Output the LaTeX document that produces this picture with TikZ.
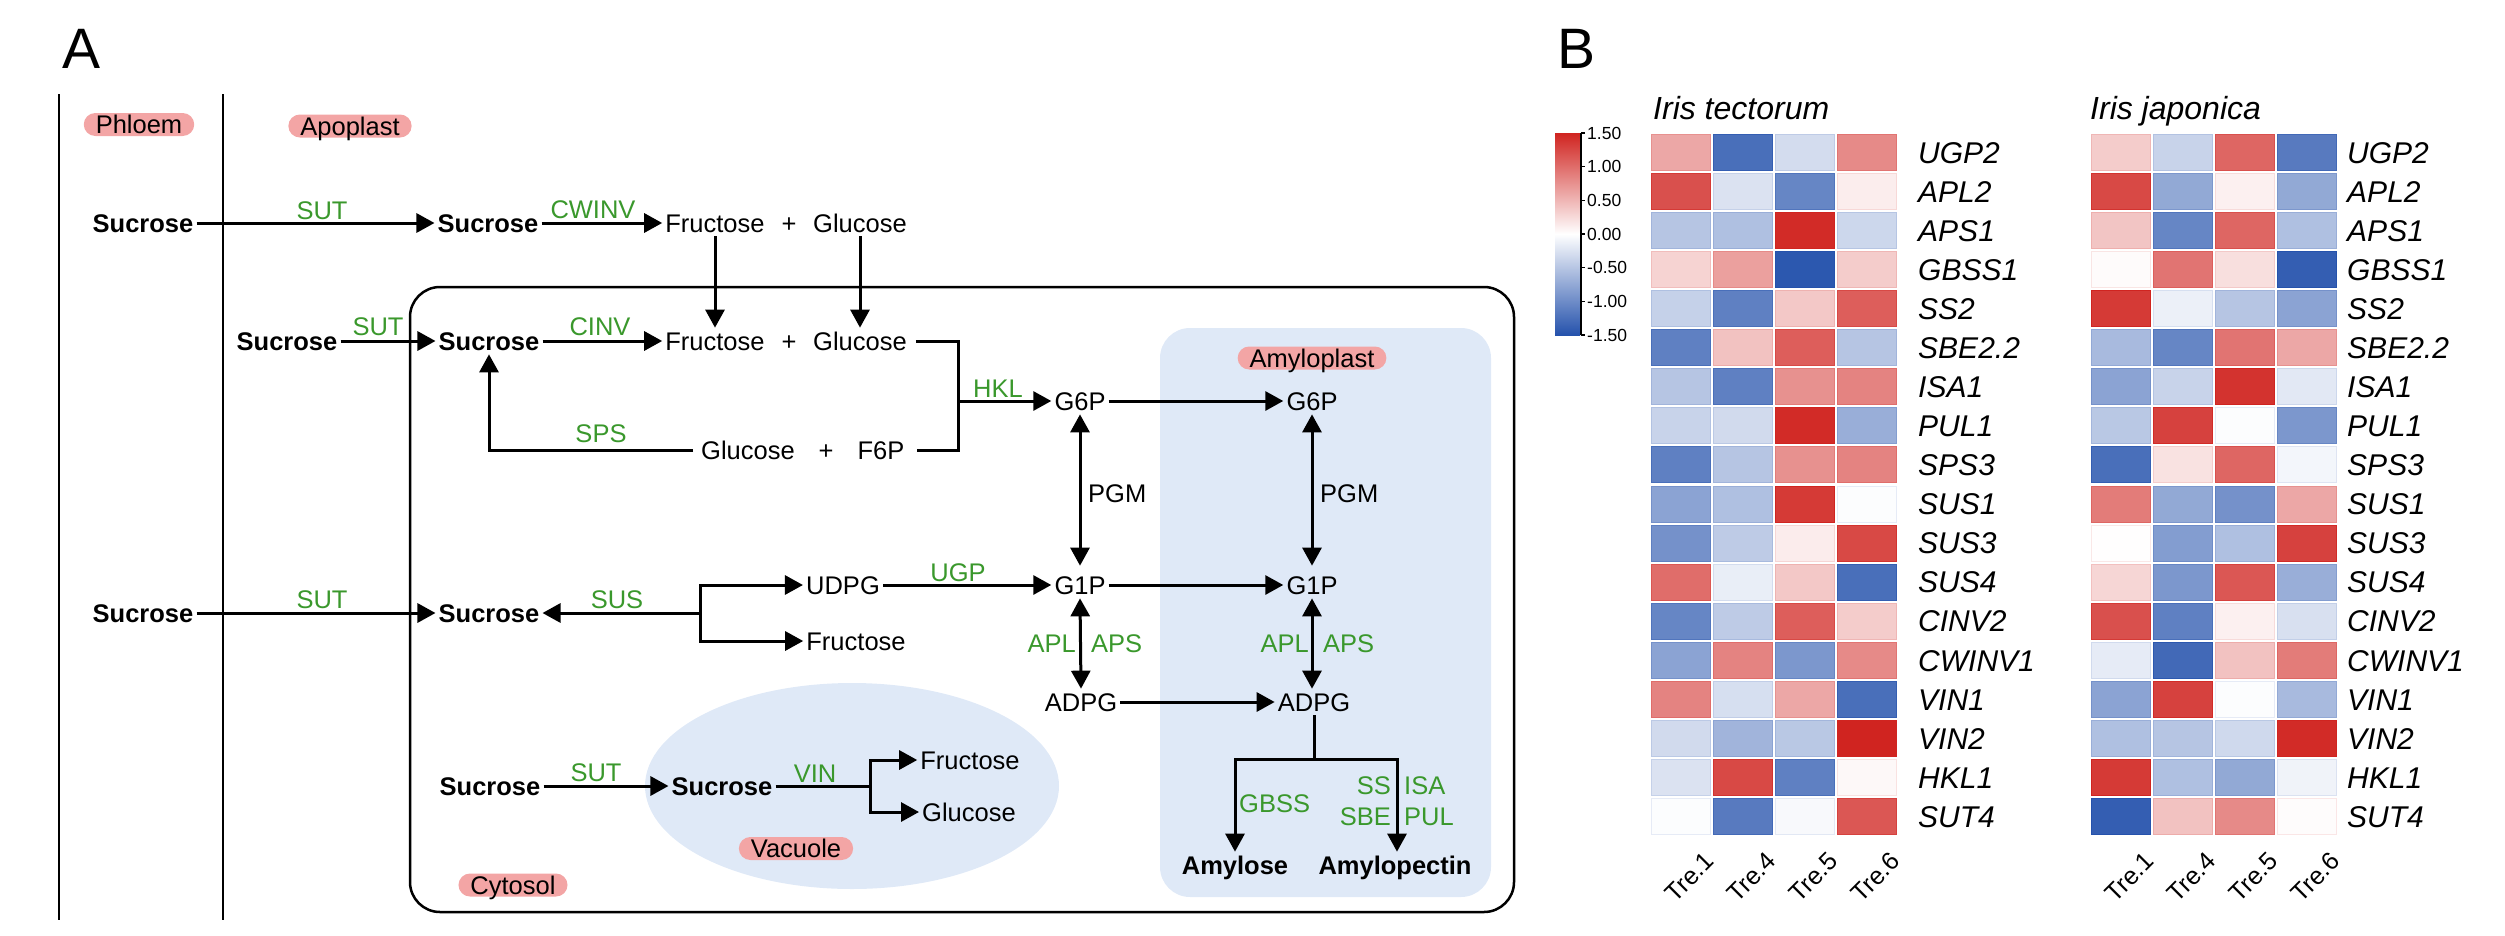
\documentclass[tikz,border=0pt]{standalone}
\usepackage{fontspec}
\setmainfont{Liberation Sans}
\usetikzlibrary{arrows.meta}
\definecolor{enz}{RGB}{58,152,44}
\definecolor{pillc}{RGB}{243,165,165}
\definecolor{amy}{RGB}{223,233,247}
\definecolor{hmr}{RGB}{208,36,32}
\definecolor{hmb}{RGB}{37,82,172}
\newcommand\fsmain{\fontsize{25.5bp}{30bp}\selectfont}
\newcommand\hmcell[3]{%
  \pgfmathsetmacro\hmP{min(100,abs(#3)/1.5*100)}%
  \pgfmathsetmacro\hmQ{min(100,abs(#3)/1.5*100+10)}%
  \ifdim #3pt<0pt \def\hmC{hmb}\else\def\hmC{hmr}\fi
  \filldraw[fill=\hmC!\hmP!white, draw=\hmC!\hmQ!white, line width=1bp] (#1+1.5,#2+1.5) rectangle (#1+60.5,#2+37.5);}
\begin{document}
\begin{tikzpicture}[x=1bp,y=-1bp,
  every node/.style={inner sep=0pt},
  txt/.style={font=\fsmain, text height=18.3bp, text depth=0bp, inner xsep=3bp, inner ysep=4bp},
  bld/.style={txt, font=\fsmain\bfseries},
  enzl/.style={font=\fsmain, text=enz, text height=18.3bp, text depth=0bp},
  blk/.style={font=\fsmain, text height=18.3bp, text depth=0bp},
  pill/.style={font=\fsmain, fill=pillc, rounded corners=11.5bp, text height=18.3bp, text depth=0bp, inner xsep=12bp, inner ysep=2.35bp},
  arr/.style={line width=3bp, -{Triangle[length=18bp,width=19bp]}},
  dbl/.style={line width=3bp, {Triangle[length=18bp,width=19bp]}-{Triangle[length=18bp,width=19bp]}},
  ln/.style={line width=3bp},
  gene/.style={font=\fontsize{30bp}{34bp}\selectfont\itshape, text height=21.5bp, text depth=0bp, anchor=west},
  tre/.style={font=\fontsize{25bp}{29bp}\selectfont, text height=17.9bp, text depth=0bp, rotate=45, anchor=north east},
  cbl/.style={font=\fontsize{17.5bp}{20bp}\selectfont, text height=12.5bp, text depth=0bp, anchor=west},
  ttl/.style={font=\fontsize{32bp}{36bp}\selectfont\itshape, text height=23bp, text depth=0bp, anchor=west}
]
\useasboundingbox (0,0) rectangle (2505,935);
% ---------- panel labels
\node[font=\fontsize{57bp}{60bp}\selectfont, text height=41bp, text depth=0bp, anchor=west] (labA) at (62,47.5) {A};
\node[font=\fontsize{57bp}{60bp}\selectfont, text height=41bp, text depth=0bp, anchor=west] (labB) at (1557,47.5) {B};
% ---------- compartments
\draw[line width=2.5bp] (59,94) -- (59,920);
\draw[line width=2.5bp] (223,94) -- (223,920);
\draw[line width=2.5bp, rounded corners=30bp] (410,287) rectangle (1514,912);
\fill[amy, rounded corners=30bp] (1160,328) rectangle (1491,897);
\fill[amy] (852,786) ellipse [x radius=207, y radius=103];
\node[pill] (phloem) at (139,124.5) {Phloem};
\node[pill] (apoplast) at (350,126) {Apoplast};
\node[pill] (amyloplast) at (1312,358) {Amyloplast};
\node[pill] (vacuole) at (796,848.5) {Vacuole};
\node[pill] (cytosol) at (513,885) {Cytosol};
% ---------- metabolites
\node[bld] (sph1) at (143,223) {Sucrose};
\node[bld] (sap1) at (488,223) {Sucrose};
\node[txt] (fru1) at (715,223) {Fructose};
\node[txt] (p1) at (789,223) {+};
\node[txt] (glc1) at (860,223) {Glucose};
\node[bld] (sap2) at (287,341) {Sucrose};
\node[bld] (scy) at (489,341) {Sucrose};
\node[txt] (fru2) at (715,341) {Fructose};
\node[txt] (p2) at (789,341) {+};
\node[txt] (glc2) at (860,341) {Glucose};
\node[txt] (glc3) at (748,450) {Glucose};
\node[txt] (p3) at (826,450) {+};
\node[txt] (f6p) at (881,450) {F6P};
\node[txt] (g6pc) at (1080,401) {G6P};
\node[txt] (g6pa) at (1312,401) {G6P};
\node[txt] (udpg) at (843,585) {UDPG};
\node[txt] (g1pc) at (1080,585) {G1P};
\node[txt] (g1pa) at (1312,585) {G1P};
\node[bld] (sph2) at (143,613) {Sucrose};
\node[bld] (scy2) at (489,613) {Sucrose};
\node[txt] (fru3) at (856,641) {Fructose};
\node[txt] (adpgc) at (1081,702) {ADPG};
\node[txt] (adpga) at (1314,702) {ADPG};
\node[bld] (scy3) at (490,786) {Sucrose};
\node[bld] (svac) at (722,786) {Sucrose};
\node[txt] (fru4) at (970,760) {Fructose};
\node[txt] (glc4) at (969,812) {Glucose};
\node[bld] (amylose) at (1235,865) {Amylose};
\node[bld] (amylopectin) at (1395,865) {Amylopectin};
% ---------- enzyme labels
\node[enzl] (e1) at (322,210) {SUT};
\node[enzl] (e2) at (593,209) {CWINV};
\node[enzl] (e3) at (378,326) {SUT};
\node[enzl] (e4) at (600,326) {CINV};
\node[enzl] (e5) at (998,388) {HKL};
\node[enzl] (e6) at (601,433) {SPS};
\node[enzl] (e7) at (322,599) {SUT};
\node[enzl] (e8) at (617,599) {SUS};
\node[enzl] (e9) at (958,572) {UGP};
\node[blk, anchor=west] (e10) at (1088,493) {PGM};
\node[blk, anchor=west] (e11) at (1320,493) {PGM};
\node[enzl, anchor=east] (e12) at (1076,643) {APL};
\node[enzl, anchor=west] (e13) at (1091,643) {APS};
\node[enzl, anchor=east] (e14) at (1309,643) {APL};
\node[enzl, anchor=west] (e15) at (1323,643) {APS};
\node[enzl] (e16) at (596,772) {SUT};
\node[enzl] (e17) at (815,773) {VIN};
\node[enzl, anchor=west] (e18) at (1239,803) {GBSS};
\node[enzl, anchor=east] (e19) at (1391,785) {SS};
\node[enzl, anchor=west] (e20) at (1404,785) {ISA};
\node[enzl, anchor=east] (e21) at (1391,816) {SBE};
\node[enzl, anchor=west] (e22) at (1404,816) {PUL};
% ---------- connectors
\coordinate (J) at (958,401);
\coordinate (K) at (700,613);
\coordinate (V) at (870,786);
\coordinate (B1) at (1314,759);
\draw[arr] (sph1) -- (sap1);
\draw[arr] (sap1) -- (fru1);
\draw[arr] (fru1) -- (fru2);
\draw[arr] (glc1) -- (glc2);
\draw[arr] (sap2) -- (scy);
\draw[arr] (scy) -- (fru2);
\draw[ln] ([xshift=6bp]glc2.east) -| (J) |- ([xshift=9bp]f6p.east);
\draw[arr] (J) -- (g6pc);
\draw[arr] ([xshift=-5bp]glc3.west) -| (scy.south);
\draw[arr] (g6pc) -- (g6pa);
\draw[dbl, shorten >=6bp] (g6pc.south) -- (g1pc.north);
\draw[dbl, shorten >=6bp] (g6pa.south) -- (g1pa.north);
\draw[arr] (udpg) -- (g1pc);
\draw[arr] (g1pc) -- (g1pa);
\draw[dbl] (g1pc.south) -- (adpgc.north);
\draw[dbl] (g1pa.south) -- (g1pa.south |- adpga.north);
\draw[arr] (adpgc) -- (adpga);
\draw[ln] (adpga.south) -- (B1);
\draw[arr] (B1) -| (amylose.north);
\draw[arr] (B1) -| ([xshift=2bp]amylopectin.north);
\draw[arr] (sph2) -- (scy2);
\draw[arr] (K) -- (scy2);
\draw[arr] (K) |- (udpg.west);
\draw[arr] (K) |- (fru3.west);
\draw[arr] (scy3) -- (svac);
\draw[ln] (svac.east) -- (V);
\draw[arr] (V) |- (fru4.west);
\draw[arr] (V) |- (glc4.west);
% ---------- heatmap B
\node[ttl] (t1) at (1653,108) {Iris tectorum};
\node[ttl] (t2) at (2090,108) {Iris japonica};
\shade[top color=hmr, bottom color=hmb, middle color=white] (1555,133) rectangle (1580,335);
\draw[line width=1.5bp] (1581,133) -- (1581,335);
\foreach \t [count=\k from 0] in {1.50,1.00,0.50,0.00,-0.50,-1.00,-1.50} {
  \draw[line width=1.5bp] (1581,133+\k*33.667) -- (1585,133+\k*33.667);
  \node[cbl] (cb\k) at (1587,133+\k*33.667) {\t};
}
\foreach \g/\a/\b/\c/\d [count=\i from 0] in {
 UGP2/0.6/-1.25/-0.3/0.8, APL2/1.2/-0.25/-1.05/0.12, APS1/-0.5/-0.55/1.45/-0.35,
 GBSS1/0.3/0.65/-1.45/0.35, SS2/-0.4/-1.1/0.38/1.1, SBE2.2/-1.1/0.42/1.1/-0.5,
 ISA1/-0.5/-1.1/0.75/0.85, PUL1/-0.38/-0.32/1.45/-0.7, SPS3/-1.1/-0.5/0.75/0.85,
 SUS1/-0.8/-0.55/1.35/-0.02, SUS3/-0.95/-0.45/0.13/1.25, SUS4/1.0/-0.15/0.38/-1.25,
 CINV2/-1.05/-0.45/1.1/0.35, CWINV1/-0.8/0.85/-0.9/0.8, VIN1/0.85/-0.28/0.6/-1.25,
 VIN2/-0.32/-0.65/-0.48/1.5, HKL1/-0.25/1.25/-1.1/0.05, SUT4/-0.02/-1.15/-0.05/1.15} {
  \pgfmathsetmacro\yt{133+\i*39.06}
  \foreach \v [count=\j from 0] in {\a,\b,\c,\d} { \hmcell{1650+\j*62}{\yt}{\v} }
  \node[gene] (ga\i) at (1918,\yt+19.5) {\g};
}
\foreach \g/\a/\b/\c/\d [count=\i from 0] in {
 UGP2/0.35/-0.38/1.05/-1.15, APL2/1.25/-0.75/0.1/-0.75, APS1/0.4/-1.05/1.05/-0.55,
 GBSS1/0.03/0.95/0.22/-1.4, SS2/1.35/-0.13/-0.5/-0.8, SBE2.2/-0.6/-1.05/0.95/0.6,
 ISA1/-0.8/-0.38/1.4/-0.2, PUL1/-0.48/1.3/-0.02/-0.9, SPS3/-1.25/0.2/1.05/-0.08,
 SUS1/0.9/-0.75/-0.95/0.6, SUS3/0.01/-0.85/-0.55/1.3, SUS4/0.28/-0.9/1.15/-0.7,
 CINV2/1.2/-1.1/0.1/-0.27, CWINV1/-0.17/-1.3/0.42/0.9, VIN1/-0.8/1.3/-0.02/-0.6,
 VIN2/-0.55/-0.5/-0.33/1.45, HKL1/1.35/-0.55/-0.75/-0.1, SUT4/-1.4/0.42/0.8/0.02} {
  \pgfmathsetmacro\yt{133+\i*39.06}
  \foreach \v [count=\j from 0] in {\a,\b,\c,\d} { \hmcell{2090+\j*62}{\yt}{\v} }
  \node[gene] (gb\i) at (2347,\yt+19.5) {\g};
}
\foreach \n [count=\j from 0] in {1,4,5,6} {
  \node[tre] (tra\j) at (1650+\j*62+31+22,850) {Tre.\n};
  \node[tre] (trb\j) at (2090+\j*62+31+22,850) {Tre.\n};
}
\end{tikzpicture}
\end{document}
